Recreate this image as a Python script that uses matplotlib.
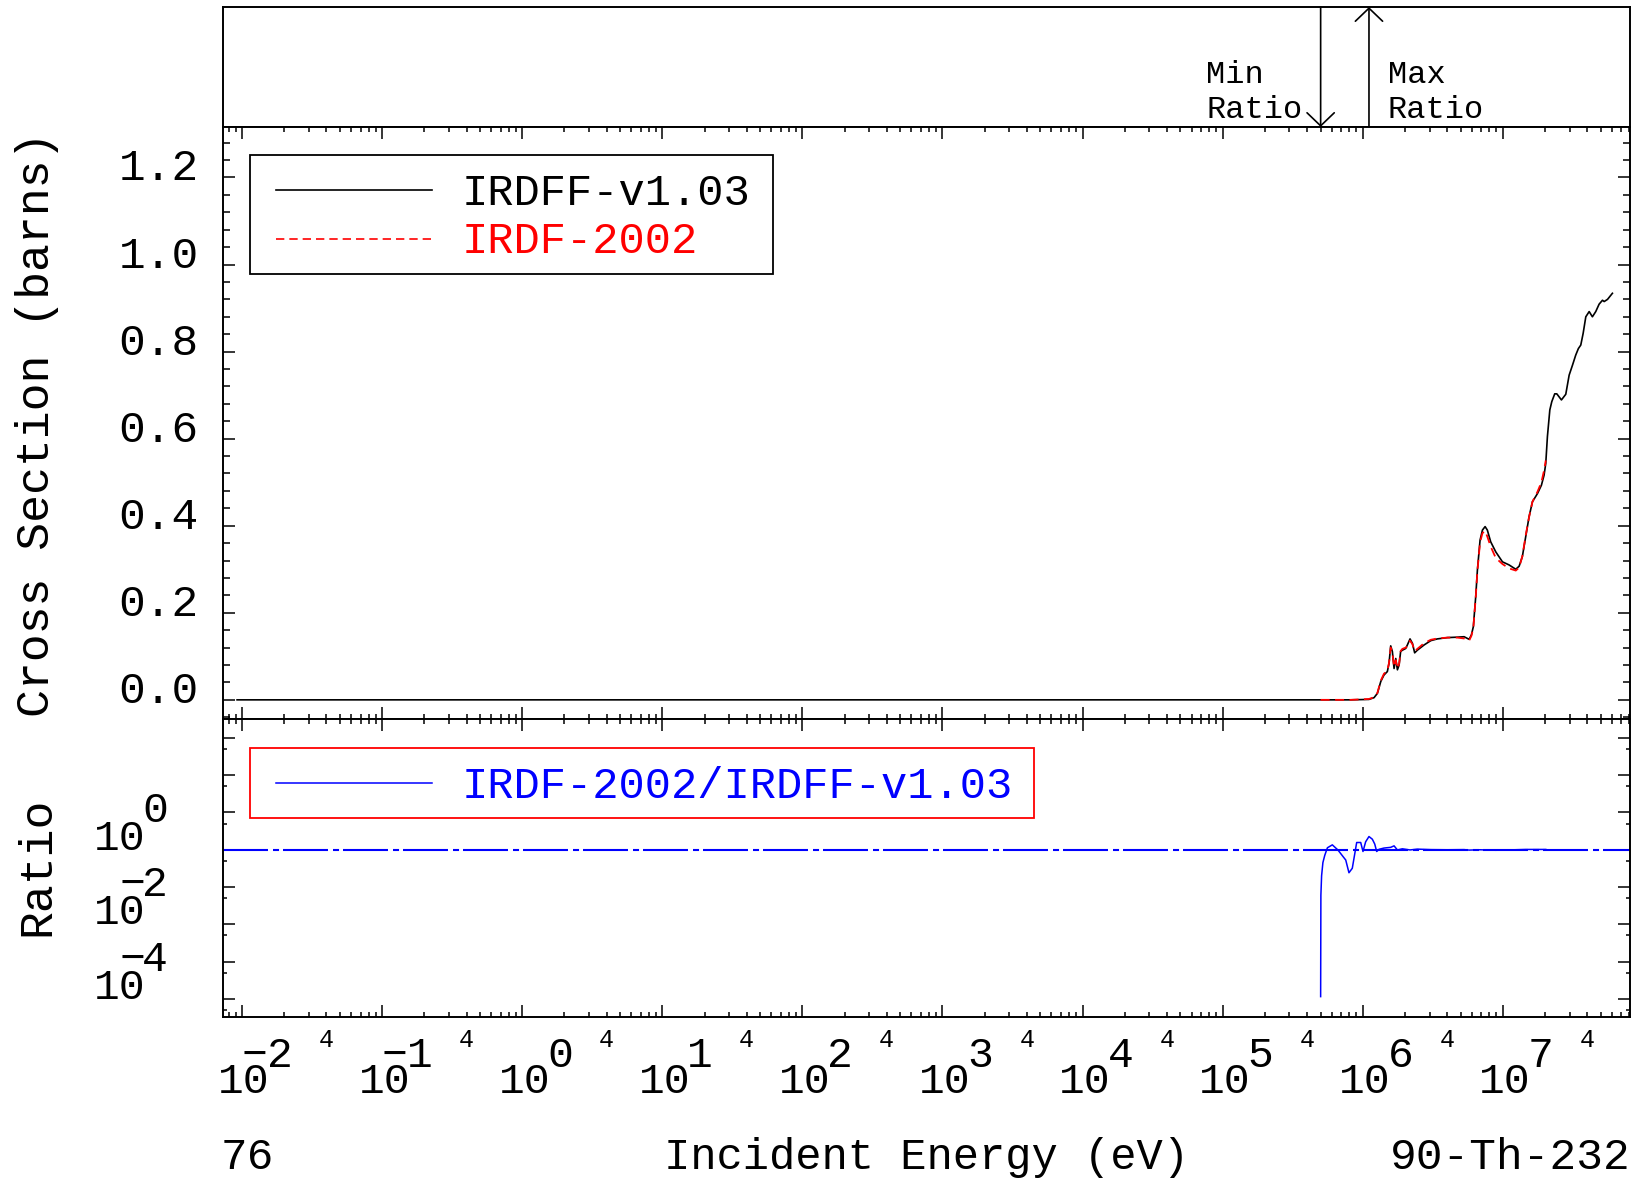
import numpy as np
import matplotlib
matplotlib.use("Agg")
import matplotlib.pyplot as plt
from matplotlib.ticker import LogLocator, MultipleLocator
from matplotlib.patches import Rectangle
from matplotlib.lines import Line2D

plt.rcParams['font.family'] = ['Liberation Mono', 'DejaVu Sans']

# ---------------- data ----------------
energy_irdff = [9.2e-3, 5.0e5, 8.2e5, 1.109e6, 1.205e6, 1.274e6, 1.346e6, 1.419e6, 1.500e6,
                1.542e6, 1.585e6, 1.629e6, 1.675e6, 1.722e6, 1.770e6, 1.820e6, 1.866e6,
                1.919e6, 2.028e6, 2.084e6, 2.178e6, 2.265e6, 2.350e6, 2.455e6, 2.742e6,
                3.062e6, 3.412e6, 4.027e6, 4.742e6, 5.297e6, 5.754e6, 5.970e6, 6.166e6,
                6.412e6, 6.592e6, 6.887e6, 7.161e6, 7.482e6, 7.762e6, 8.204e6, 8.913e6,
                9.954e6, 1.109e7, 1.239e7, 1.309e7, 1.380e7, 1.459e7, 1.542e7, 1.629e7,
                1.770e7, 1.888e7, 1.972e7, 2.028e7, 2.084e7, 2.168e7, 2.239e7, 2.350e7,
                2.432e7, 2.624e7, 2.818e7, 2.979e7, 3.148e7, 3.319e7, 3.467e7, 3.606e7,
                3.750e7, 3.917e7, 4.140e7, 4.365e7, 4.613e7, 4.875e7, 5.152e7, 5.297e7,
                5.598e7, 6.067e7]
xs_irdff = [0.0, 0.0, 0.0, 0.001, 0.005, 0.015, 0.042, 0.057, 0.065,
            0.084, 0.124, 0.111, 0.072, 0.095, 0.069, 0.080, 0.111,
            0.114, 0.118, 0.126, 0.140, 0.130, 0.108, 0.114, 0.126,
            0.136, 0.140, 0.143, 0.144, 0.145, 0.139, 0.149, 0.168,
            0.237, 0.298, 0.367, 0.390, 0.398, 0.390, 0.363, 0.340,
            0.317, 0.310, 0.300, 0.307, 0.329, 0.375, 0.421, 0.455,
            0.474, 0.493, 0.516, 0.543, 0.605, 0.666, 0.685, 0.703,
            0.703, 0.689, 0.702, 0.746, 0.769, 0.792, 0.807, 0.815,
            0.842, 0.880, 0.892, 0.880, 0.892, 0.909, 0.918, 0.915,
            0.920, 0.934]

energy_irdf = [5.01e5, 8.2e5, 1.109e6, 1.205e6, 1.274e6, 1.346e6, 1.419e6, 1.500e6,
               1.542e6, 1.585e6, 1.629e6, 1.675e6, 1.722e6, 1.770e6, 1.820e6, 1.866e6,
               1.919e6, 2.028e6, 2.084e6, 2.178e6, 2.265e6, 2.350e6, 2.455e6, 2.742e6,
               3.062e6, 3.412e6, 4.027e6, 4.742e6, 5.297e6, 5.754e6, 5.970e6, 6.166e6,
               6.412e6, 6.592e6, 6.887e6, 7.161e6, 7.482e6, 7.762e6, 8.204e6, 8.913e6,
               9.954e6, 1.109e7, 1.239e7, 1.309e7, 1.380e7, 1.459e7, 1.542e7, 1.629e7,
               1.770e7, 1.888e7, 1.972e7, 2.028e7]
xs_irdf = [0.0, 0.0, 0.002, 0.006, 0.016, 0.044, 0.060, 0.067,
           0.085, 0.120, 0.108, 0.076, 0.091, 0.072, 0.083, 0.112,
           0.117, 0.120, 0.123, 0.136, 0.128, 0.112, 0.117, 0.130,
           0.138, 0.141, 0.143, 0.143, 0.141, 0.136, 0.147, 0.165,
           0.235, 0.296, 0.362, 0.383, 0.388, 0.375, 0.352, 0.326,
           0.312, 0.302, 0.297, 0.304, 0.330, 0.378, 0.420, 0.455,
           0.478, 0.500, 0.527, 0.550]

energy_ratio = [5.01e5, 5.03e5, 5.09e5, 5.20e5, 5.36e5, 5.60e5, 6.07e5, 6.65e5, 7.57e5,
                7.98e5, 8.43e5, 9.06e5, 9.68e5, 1.005e6, 1.05e6, 1.109e6, 1.172e6,
                1.219e6, 1.259e6, 1.309e6, 1.419e6, 1.585e6, 1.675e6, 1.770e6, 1.919e6,
                2.178e6, 2.455e6, 3.062e6, 4.027e6, 5.297e6, 5.754e6, 6.887e6, 8.913e6,
                1.109e7, 1.459e7, 2.028e7]
ratio_values = [1.15e-4, 0.06, 0.20, 0.45, 0.70, 1.12, 1.34, 0.98, 0.525,
                0.24, 0.316, 1.55, 1.55, 0.89, 1.62, 2.24, 1.90,
                1.41, 0.89, 1.02, 1.10, 1.15, 1.26, 0.98, 1.05,
                0.98, 1.03, 1.00, 0.99, 1.00, 0.97, 0.99, 0.96,
                0.98, 1.01, 1.01]

series_labels = ['IRDFF-v1.03', 'IRDF-2002']
ratio_label = 'IRDF-2002/IRDFF-v1.03'
main_ytick_values = [0.0, 0.2, 0.4, 0.6, 0.8, 1.0, 1.2]
ratio_ytick_exponents = [0, -2, -4]
xtick_exponents = [-2, -1, 0, 1, 2, 3, 4, 5, 6, 7]
x_range = (7.3e-3, 8.1e7)
main_yrange = (-0.044, 1.316)
ratio_yrange = (3.27e-5, 3.16e3)
left_note = '76'
right_note = '90-Th-232'
xlabel = 'Incident Energy (eV)'
ylabel_main = 'Cross Section (barns)'
ylabel_ratio = 'Ratio'

# ---------------- figure ----------------
W, H, DPI = 1633, 1181, 100
fig = plt.figure(figsize=(W / DPI, H / DPI), dpi=DPI)
fig.patch.set_facecolor('white')


def box(l, t, r, b):
    return [l / W, 1 - b / H, (r - l) / W, (b - t) / H]


def fxy(x, y):
    return x / W, 1 - y / H


L, R = 223, 1630
ax_top = fig.add_axes(box(L, 7, R, 127))
ax_main = fig.add_axes(box(L, 127, R, 719))
ax_ratio = fig.add_axes(box(L, 719, R, 1017))

for ax in (ax_top, ax_main, ax_ratio):
    ax.set_xscale('log')
    ax.set_xlim(*x_range)
    for s in ax.spines.values():
        s.set_linewidth(1.4)

ax_top.set_ylim(0, 1)
ax_top.tick_params(which='both', bottom=False, top=False, left=False, right=False,
                   labelbottom=False, labelleft=False)

# main panel
l1, = ax_main.plot(energy_irdff, xs_irdff, color='black', lw=1.2, zorder=3)
l2, = ax_main.plot(energy_irdf, xs_irdf, color='red', lw=1.3, linestyle=(0, (5, 3)), zorder=4)
ax_main.set_ylim(*main_yrange)
ax_main.yaxis.set_major_locator(MultipleLocator(0.2))
ax_main.yaxis.set_minor_locator(MultipleLocator(0.04))

# ratio panel
ax_ratio.set_yscale('log')
ax_ratio.set_ylim(*ratio_yrange)
ax_ratio.yaxis.set_major_locator(LogLocator(base=10, numticks=30))
ax_ratio.yaxis.set_minor_locator(LogLocator(base=10, subs=(5,), numticks=30))
ax_ratio.axhline(1.0, color='blue', lw=1.5, linestyle=(0, (21.6, 2.4, 2.9, 1.9)), zorder=2)
l3, = ax_ratio.plot(energy_ratio, ratio_values, color='blue', lw=1.1, zorder=3)

for ax in (ax_main, ax_ratio):
    ax.xaxis.set_major_locator(LogLocator(base=10, numticks=30))
    ax.xaxis.set_minor_locator(LogLocator(base=10, subs=np.arange(2, 10), numticks=30))
    ax.tick_params(which='both', direction='in', top=True, right=True, bottom=True, left=True,
                   labelbottom=False, labelleft=False, width=1.1, color='black')
    ax.tick_params(which='major', length=8.6)
    ax.xaxis.set_tick_params(which='minor', length=3.6)
ax_main.yaxis.set_tick_params(which='minor', length=4.7)
ax_ratio.yaxis.set_tick_params(which='minor', length=2.9)


def label_at(ax, xy, coords, text, dx, dy, size, ha, color='black'):
    ax.annotate(text, xy=xy, xycoords=coords, xytext=(dx, dy), textcoords='offset pixels',
                ha=ha, va='baseline', fontsize=size, color=color, annotation_clip=False)


# main y tick labels
for v in main_ytick_values:
    label_at(ax_main, (0, v), ('axes fraction', 'data'), f'{v:.1f}', -24, -3, 32, 'right')

# x tick labels
for n in xtick_exponents:
    c = ('data', 'axes fraction')
    label_at(ax_ratio, (10.0 ** n, 0), c, '10', 2, -76, 31, 'center')
    label_at(ax_ratio, (10.0 ** n, 0), c, str(abs(n)), 25, -50, 31, 'left')
    if n < 0:
        label_at(ax_ratio, (10.0 ** n, 0), c, '\u2212', 12, -50, 31, 'center')
    label_at(ax_ratio, (4 * 10.0 ** n, 0), c, '4', 0, -30, 18, 'center')

# ratio y tick labels
for n in ratio_ytick_exponents:
    c = ('axes fraction', 'data')
    label_at(ax_ratio, (0, 10.0 ** n), c, '10', -78, 0, 31, 'right')
    label_at(ax_ratio, (0, 10.0 ** n), c, str(abs(n)), -81, 28, 31, 'left')
    if n < 0:
        label_at(ax_ratio, (0, 10.0 ** n), c, '\u2212', -91, 28, 31, 'center')

# min / max ratio arrows
r = np.asarray(ratio_values)
e_min = energy_ratio[int(np.argmin(r))]
e_max = energy_ratio[int(np.argmax(r))]
aprops = dict(arrowstyle='->,head_length=0.47,head_width=0.49', mutation_scale=20,
              lw=1.2, color='black', shrinkA=0, shrinkB=0)
ax_top.annotate('', xy=(e_min, 0), xycoords=('data', 'axes fraction'),
                xytext=(e_min, 1), textcoords=('data', 'axes fraction'), arrowprops=aprops)
ax_top.annotate('', xy=(e_max, 1), xycoords=('data', 'axes fraction'),
                xytext=(e_max, 0), textcoords=('data', 'axes fraction'), arrowprops=aprops)
c = ('data', 'axes fraction')
label_at(ax_top, (e_min, 0), c, 'Min  ', -18, 44, 23, 'right')
label_at(ax_top, (e_min, 0), c, 'Ratio', -18, 9, 23, 'right')
label_at(ax_top, (e_max, 0), c, 'Max', 19, 44, 23, 'left')
label_at(ax_top, (e_max, 0), c, 'Ratio', 19, 9, 23, 'left')


# legends (drawn in figure pixel space)
def add_frame(l, t, rr, b, color):
    x0, y1 = fxy(l, t)
    x1, y0 = fxy(rr, b)
    fig.add_artist(Rectangle((x0, y0), x1 - x0, y1 - y0, transform=fig.transFigure,
                             fill=False, edgecolor=color, lw=1.3, zorder=6))


def add_sample(l, rr, y, line):
    x0, yy = fxy(l, y)
    x1, _ = fxy(rr, y)
    fig.add_artist(Line2D([x0, x1], [yy, yy], transform=fig.transFigure,
                          color=line.get_color(), lw=line.get_linewidth(),
                          linestyle=line.get_linestyle(), zorder=6))


def add_text(x, y, s, color, size):
    fx, fy = fxy(x, y)
    fig.text(fx, fy, s, color=color, fontsize=size, ha='left', va='baseline')


add_frame(250, 155, 773, 274, 'black')
fig.add_artist(Line2D([fxy(276, 0)[0], fxy(432, 0)[0]], [fxy(0, 190.5)[1]] * 2,
                      transform=fig.transFigure, color=l1.get_color(), lw=1.2, zorder=6))
fig.add_artist(Line2D([fxy(276, 0)[0], fxy(432, 0)[0]], [fxy(0, 238.5)[1]] * 2,
                      transform=fig.transFigure, color=l2.get_color(), lw=1.2,
                      linestyle=(0, (5, 3)), zorder=6))
add_text(462, 205, series_labels[0], 'black', 31.5)
add_text(462, 253, series_labels[1], 'red', 31.5)

add_frame(250, 748, 1034, 818, 'red')
fig.add_artist(Line2D([fxy(276, 0)[0], fxy(432, 0)[0]], [fxy(0, 782.7)[1]] * 2,
                      transform=fig.transFigure, color=l3.get_color(), lw=1.1, zorder=6))
add_text(462, 798, ratio_label, 'blue', 31.5)

# axis labels and notes
fx, fy = fxy(37, 424)
fig.text(fx, fy, ylabel_main, rotation=90, ha='center', va='center', fontsize=33.5)
fx, fy = fxy(37, 866)
fig.text(fx, fy, ylabel_ratio, rotation=90, ha='center', va='center', fontsize=33.5)
fx, fy = fxy(220.5, 1169)
fig.text(fx, fy, left_note, ha='left', va='baseline', fontsize=32)
fx, fy = fxy(927, 1169)
fig.text(fx, fy, xlabel, ha='center', va='baseline', fontsize=31.5)
fx, fy = fxy(1631, 1169)
fig.text(fx, fy, right_note, ha='right', va='baseline', fontsize=32)

fig.savefig('out.png', dpi=DPI, facecolor='white')
